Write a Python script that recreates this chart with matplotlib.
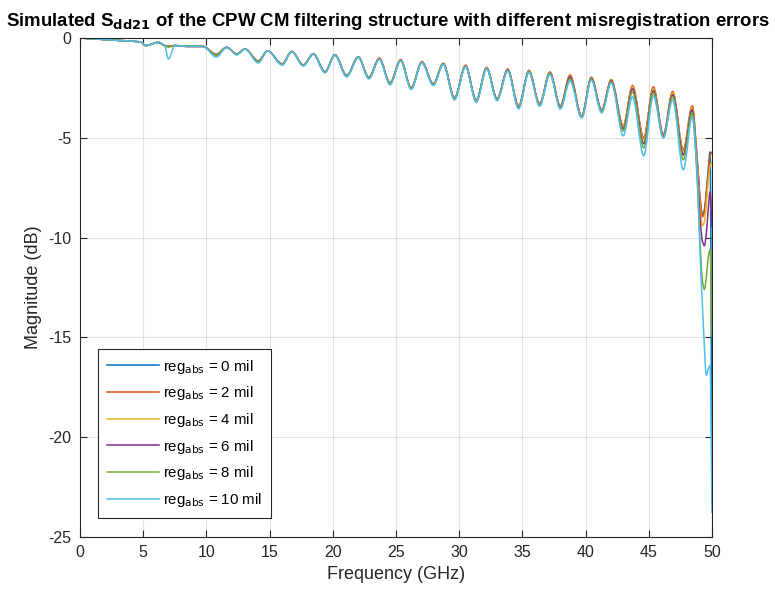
import numpy as np
import matplotlib
matplotlib.use("Agg")
import matplotlib.pyplot as plt
from matplotlib.path import Path
from matplotlib.patches import PathPatch
from matplotlib.lines import Line2D

plt.rcParams['font.family'] = ['Liberation Sans', 'DejaVu Sans']
plt.rcParams['axes.unicode_minus'] = False

# frequency points (GHz), shared by all traces
freq = [0.0, 2.5, 4.8, 5.2, 6.2, 6.7, 7.0, 7.5, 8.5, 9.7,
        10.8, 11.6, 12.4, 13.05, 14.1, 14.85, 16.0, 16.75, 17.67, 18.46,
        19.38, 20.17, 21.1, 22.02, 22.85, 23.68, 24.53, 25.37, 26.2, 27.05,
        27.95, 28.74, 29.63, 30.5, 31.35, 32.17, 33.0, 33.84, 34.7, 35.52,
        36.36, 37.18, 38.0, 38.77, 39.69, 40.45, 41.27, 42.03, 42.98, 43.71,
        44.6, 45.36, 46.15, 46.89, 47.73, 48.44,
        48.8, 49.1, 49.25, 49.4, 49.55, 49.7, 49.85, 50.0]

# magnitude (dB) for each misregistration
sdd21_0 = [0.0, -0.1, -0.2, -0.38, -0.22, -0.38, -0.42, -0.38, -0.42, -0.42,
           -0.82, -0.47, -0.8, -0.55, -1.15, -0.65, -1.3, -0.68, -1.35, -0.8,
           -1.69, -0.85, -1.88, -0.96, -1.98, -1.05, -2.25, -1.12, -2.5, -1.22,
           -2.3, -1.3, -3.0, -1.42, -3.13, -1.52, -3.05, -1.6, -3.42, -1.66,
           -3.3, -1.74, -3.42, -1.95, -3.92, -2.0, -3.62, -2.12, -4.45, -2.42,
           -5.05, -2.5, -4.85, -2.72, -5.65, -3.45,
           -5.9, -8.3, -8.9, -8.6, -7.7, -6.6, -5.7, -23.4]
sdd21_2 = [0.0, -0.1, -0.2, -0.38, -0.22, -0.38, -0.42, -0.38, -0.42, -0.42,
           -0.82, -0.46, -0.8, -0.54, -1.15, -0.64, -1.3, -0.67, -1.35, -0.78,
           -1.69, -0.83, -1.88, -0.94, -1.98, -1.0, -2.25, -1.08, -2.5, -1.18,
           -2.3, -1.26, -3.0, -1.36, -3.12, -1.48, -3.05, -1.55, -3.4, -1.62,
           -3.3, -1.7, -3.4, -1.85, -3.9, -1.96, -3.6, -2.08, -4.4, -2.38,
           -5.0, -2.45, -4.85, -2.68, -5.6, -3.4,
           -5.8, -8.3, -8.95, -8.7, -7.8, -6.8, -5.9, -5.7]
sdd21_4 = [0.0, -0.1, -0.2, -0.38, -0.22, -0.38, -0.42, -0.38, -0.42, -0.42,
           -0.83, -0.47, -0.8, -0.55, -1.16, -0.65, -1.31, -0.68, -1.36, -0.8,
           -1.7, -0.85, -1.89, -0.96, -1.99, -1.04, -2.26, -1.11, -2.51, -1.21,
           -2.31, -1.29, -3.01, -1.4, -3.14, -1.51, -3.06, -1.59, -3.43, -1.65,
           -3.31, -1.73, -3.43, -1.9, -3.93, -1.99, -3.63, -2.11, -4.45, -2.45,
           -5.1, -2.55, -4.9, -2.75, -5.7, -3.5,
           -6.0, -8.8, -9.4, -9.2, -8.3, -7.2, -6.4, -6.2]
sdd21_6 = [0.0, -0.1, -0.2, -0.38, -0.22, -0.38, -0.43, -0.38, -0.42, -0.42,
           -0.84, -0.47, -0.81, -0.55, -1.17, -0.65, -1.32, -0.68, -1.37, -0.8,
           -1.71, -0.85, -1.9, -0.96, -2.0, -1.05, -2.27, -1.12, -2.52, -1.22,
           -2.32, -1.3, -3.03, -1.42, -3.16, -1.52, -3.08, -1.6, -3.46, -1.67,
           -3.34, -1.76, -3.46, -1.95, -3.96, -2.02, -3.66, -2.15, -4.55, -2.55,
           -5.3, -2.65, -4.95, -2.85, -5.86, -3.6,
           -6.3, -9.4, -10.2, -10.4, -9.8, -8.6, -7.7, -9.5]
sdd21_8 = [0.0, -0.1, -0.2, -0.38, -0.22, -0.38, -0.45, -0.38, -0.42, -0.42,
           -0.86, -0.47, -0.82, -0.55, -1.19, -0.65, -1.33, -0.68, -1.38, -0.8,
           -1.72, -0.85, -1.92, -0.96, -2.02, -1.06, -2.29, -1.13, -2.54, -1.23,
           -2.34, -1.31, -3.05, -1.43, -3.18, -1.53, -3.1, -1.62, -3.5, -1.69,
           -3.38, -1.79, -3.5, -2.05, -3.98, -2.06, -3.7, -2.2, -4.65, -2.7,
           -5.5, -2.75, -5.0, -2.95, -6.1, -3.75,
           -6.8, -10.8, -12.2, -12.6, -12.0, -11.0, -10.6, -15.0]
sdd21_10 = [0.0, -0.1, -0.2, -0.38, -0.22, -0.38, -1.05, -0.38, -0.42, -0.42,
            -0.95, -0.47, -0.85, -0.55, -1.25, -0.65, -1.36, -0.68, -1.4, -0.8,
            -1.74, -0.85, -1.95, -0.96, -2.05, -1.07, -2.35, -1.14, -2.58, -1.24,
            -2.38, -1.32, -3.1, -1.44, -3.22, -1.55, -3.14, -1.64, -3.55, -1.72,
            -3.42, -1.82, -3.56, -2.15, -4.0, -2.1, -3.75, -2.25, -4.9, -2.95,
            -5.9, -2.9, -5.0, -3.1, -6.6, -3.95,
            -6.5, -11.5, -13.5, -15.5, -16.9, -16.6, -16.4, -23.8]

offsets = [0, 2, 4, 6, 8, 10]
traces = [sdd21_0, sdd21_2, sdd21_4, sdd21_6, sdd21_8, sdd21_10]
colors = ['#0072BD', '#D95319', '#EDB120', '#7E2F8E', '#77AC30', '#4DBEEE']


def smooth_path(x, y):
    # bezier curve through the read points, flat at the peaks and dips
    x = np.asarray(x, float)
    y = np.asarray(y, float)
    n = len(x)
    m = np.zeros(n)
    for i in range(1, n - 1):
        d0 = (y[i] - y[i-1]) / (x[i] - x[i-1])
        d1 = (y[i+1] - y[i]) / (x[i+1] - x[i])
        if d0 * d1 > 0:
            m[i] = 2.0 / (1.0 / d0 + 1.0 / d1)
    m[0] = (y[1] - y[0]) / (x[1] - x[0])
    m[-1] = (y[-1] - y[-2]) / (x[-1] - x[-2])
    verts = [(x[0], y[0])]
    codes = [Path.MOVETO]
    for i in range(n - 1):
        h = x[i+1] - x[i]
        verts += [(x[i] + h / 3, y[i] + m[i] * h / 3),
                  (x[i+1] - h / 3, y[i+1] - m[i+1] * h / 3),
                  (x[i+1], y[i+1])]
        codes += [Path.CURVE4] * 3
    return Path(verts, codes)


fig = plt.figure(figsize=(7.75, 5.92), dpi=100)
ax = fig.add_axes([0.1032, 0.0929, 0.8155, 0.8429])

handles = []
for off, y, c in zip(offsets, traces, colors):
    ax.add_patch(PathPatch(smooth_path(freq, y), facecolor='none', edgecolor=c,
                           lw=1.1, transform=ax.transData))
    handles.append(Line2D([], [], color=c, lw=1.1,
                          label=r'reg$_{\mathrm{abs}}$ = %d mil' % off))

ax.set_xlim(0, 50)
ax.set_ylim(-25, 0)
ax.set_xticks(np.arange(0, 51, 5))
ax.set_yticks(np.arange(-25, 1, 5))
ax.grid(True, color='#262626', alpha=0.12, lw=0.8)
ax.set_axisbelow(True)
for s in ax.spines.values():
    s.set_color('#262626')
    s.set_linewidth(0.8)
ax.tick_params(direction='in', top=True, right=True, length=5, width=0.8,
               colors='#262626', labelsize=11.5, pad=6)

ax.set_xlabel('Frequency (GHz)', fontsize=13, color='#262626', labelpad=4)
ax.set_ylabel('Magnitude (dB)', fontsize=13, color='#262626', labelpad=5)
ax.set_title(r'Simulated S$_{\mathbf{dd21}}$ of the CPW CM filtering structure with different misregistration errors',
             fontsize=13.4, fontweight='bold', pad=9, x=0.487)

leg = ax.legend(handles=handles, loc='lower left', bbox_to_anchor=(0.0285, 0.038),
                borderaxespad=0, fontsize=10.8, handlelength=3.5, handletextpad=0.25,
                labelspacing=0.58, borderpad=0.6,
                fancybox=False, framealpha=1, edgecolor='#262626')
leg.get_frame().set_linewidth(0.8)

fig.savefig('out.png', dpi=100)
